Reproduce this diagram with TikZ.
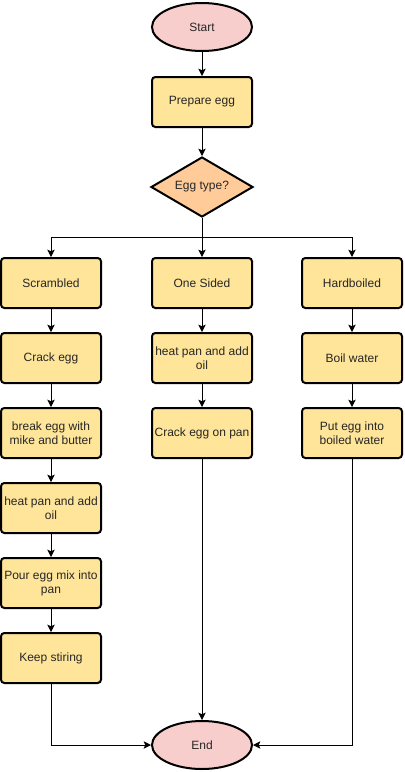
\documentclass[tikz,border=0pt]{standalone}
\usepackage{fontspec}
\setmainfont{Liberation Sans}
\usetikzlibrary{shapes.geometric,arrows.meta}
\definecolor{boxfill}{HTML}{FFE599}
\definecolor{decfill}{HTML}{FFCC99}
\definecolor{termfill}{HTML}{F8CECC}
\begin{document}
\begin{tikzpicture}[x=0.75pt,y=-0.75pt,
  txt/.style={font=\fontsize{9}{10.5}\selectfont, text=black!85, align=center},
  proc/.style={txt, draw=black, line width=1.5pt, fill=boxfill, rounded corners=2.5pt,
    minimum width=75pt, minimum height=37.5pt, inner sep=1pt},
  term/.style={txt, ellipse, draw=black, line width=1.5pt, fill=termfill,
    minimum width=75pt, minimum height=36pt, inner sep=0pt},
  dec/.style={txt, diamond, aspect=1.7, draw=black, line width=1.5pt, fill=decfill,
    minimum width=76.5pt, minimum height=45pt, inner sep=0pt},
  arr/.style={draw=black, line width=0.75pt, -{Stealth[length=5.5pt,width=5.5pt,inset=1.2pt]}}
]
\useasboundingbox (0,0) rectangle (404,772);
\node[term] (start) at (202,27) {Start};
\node[proc] (prep) at (202,102) {Prepare egg};
\node[dec] (type) at (202,187) {Egg type?};
\coordinate (split) at (202,237);

\node[proc] (scr) at (51,283) {Scrambled};
\node[proc] (crack) at (51,358) {Crack egg};
\node[proc] (brk) at (51,433) {break egg with\\mike and butter};
\node[proc] (heatA) at (51,508) {heat pan and add\\oil};
\node[proc] (pour) at (51,583) {Pour egg mix into\\pan};
\node[proc] (stir) at (51,658) {Keep stiring};

\node[proc] (one) at (202,283) {One Sided};
\node[proc] (heatB) at (202,358) {heat pan and add\\oil};
\node[proc] (crackpan) at (202,433) {Crack egg on pan};

\node[proc] (hard) at (352,283) {Hardboiled};
\node[proc] (boil) at (352,358) {Boil water};
\node[proc] (put) at (352,433) {Put egg into\\boiled water};

\node[term] (end) at (202,745) {End};

\draw[arr] (start) -- (prep);
\draw[arr] (prep) -- (type);
\draw[arr] (type) -- (one);
\draw[arr] (type.south) -- (split) -| (scr.north);
\draw[arr] (split) -| (hard.north);

\draw[arr] (scr) -- (crack);
\draw[arr] (crack) -- (brk);
\draw[arr] (brk) -- (heatA);
\draw[arr] (heatA) -- (pour);
\draw[arr] (pour) -- (stir);
\draw[arr] (one) -- (heatB);
\draw[arr] (heatB) -- (crackpan);
\draw[arr] (hard) -- (boil);
\draw[arr] (boil) -- (put);

\draw[arr] (stir) |- (end);
\draw[arr] (crackpan) -- (end);
\draw[arr] (put) |- (end);
\end{tikzpicture}
\end{document}
